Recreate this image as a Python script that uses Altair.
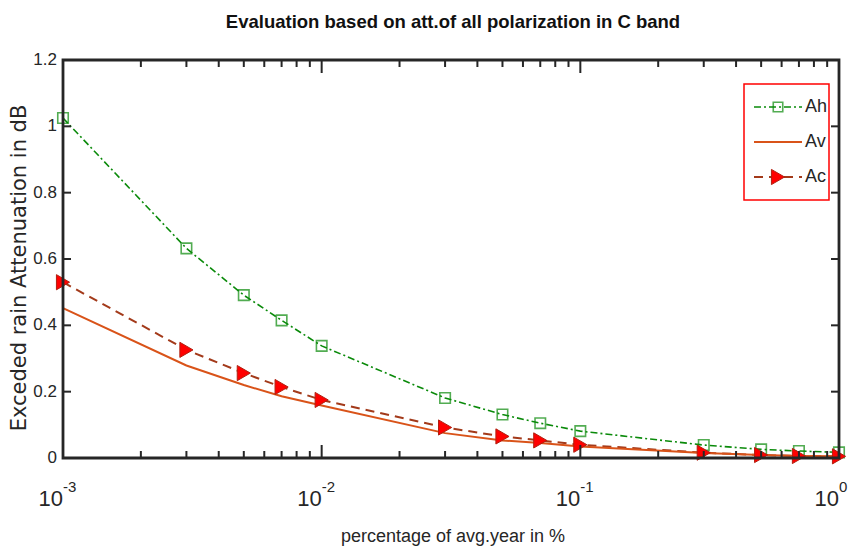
import altair as alt
import pandas as pd

# ---- data ----
pct = [0.001, 0.003, 0.005, 0.007, 0.01, 0.03, 0.05, 0.07, 0.1, 0.3, 0.5, 0.7, 1.0]
Ah = [1.025, 0.632, 0.491, 0.415, 0.338, 0.181, 0.131, 0.105, 0.081, 0.039, 0.026, 0.021, 0.017]
Av = [0.452, 0.279, 0.220, 0.186, 0.158, 0.075, 0.053, 0.045, 0.035, 0.015, 0.009, 0.006, 0.005]
Ac = [0.530, 0.326, 0.256, 0.214, 0.175, 0.092, 0.065, 0.053, 0.040, 0.016, 0.009, 0.006, 0.005]

x_decades = [0.001, 0.01, 0.1, 1.0]
x_exponents = ["-3", "-2", "-1", "0"]
x_minor = [k * d for d in [0.001, 0.01, 0.1] for k in range(2, 10)]
y_ticks = [0.0, 0.2, 0.4, 0.6, 0.8, 1.0, 1.2]
y_tick_labels = ["0", "0.2", "0.4", "0.6", "0.8", "1", "1.2"]
series_names = ["Ah", "Av", "Ac"]

TITLE = "Evaluation based on att.of all polarization in C band"
XTITLE = "percentage of avg.year in %"
YTITLE = "Exceded rain Attenuation in dB"

W, H = 776, 398
FONT = "Liberation Sans, Arial, sans-serif"
AXC = "#262626"
GREEN = "#0a8a0a"
ORANGE = "#D95319"
BROWN = "#A33A1A"

df = pd.DataFrame({"pct": pct, "Ah": Ah, "Av": Av, "Ac": Ac})
xs = alt.Scale(type="log", domain=[0.001, 1])
ys = alt.Scale(domain=[0, 1.2])
X = alt.X("pct:Q", scale=xs, axis=None)
one = pd.DataFrame({"a": [0]})

base = alt.Chart(df)

ah_line = base.mark_line(color=GREEN, strokeWidth=1.6, strokeDash=[7, 3, 2, 3]).encode(
    x=X, y=alt.Y("Ah:Q", scale=ys, axis=None))
ah_pts = base.mark_point(shape="square", size=110, color=GREEN, filled=False, strokeWidth=1.6).encode(
    x=X, y=alt.Y("Ah:Q", scale=ys, axis=None))
ac_line = base.mark_line(color=BROWN, strokeWidth=2, strokeDash=[9, 6]).encode(
    x=X, y=alt.Y("Ac:Q", scale=ys, axis=None))
av_line = base.mark_line(color=ORANGE, strokeWidth=2).encode(
    x=X, y=alt.Y("Av:Q", scale=ys, axis=None))
ac_pts = base.mark_point(shape="triangle-right", size=230, filled=True, fill="#FF0000",
                         stroke="#B02010", strokeWidth=1, opacity=1).encode(
    x=X, y=alt.Y("Ac:Q", scale=ys, axis=None))

# ---- frame ----
frame = alt.Chart(one).mark_rect(fill=None, stroke=AXC, strokeWidth=2.8).encode(
    x=alt.value(0), x2=alt.value(W), y=alt.value(0), y2=alt.value(H))

# ---- inward ticks (clipped to the frame) ----
maj = pd.DataFrame({"v": x_decades})
mnr = pd.DataFrame({"v": x_minor})
yt = pd.DataFrame({"v": y_ticks[1:-1]})
ticks = []
for d, ln in [(maj, 26), (mnr, 14)]:
    for ypos in [0, H]:
        ticks.append(alt.Chart(d).mark_tick(orient="vertical", size=ln, thickness=2, color=AXC,
                                            clip=True, opacity=1).encode(
            x=alt.X("v:Q", scale=xs, axis=None), y=alt.value(ypos)))
for xpos in [0, W]:
    ticks.append(alt.Chart(yt).mark_tick(orient="horizontal", size=16, thickness=2, color=AXC,
                                         clip=True, opacity=1).encode(
        y=alt.Y("v:Q", scale=ys, axis=None), x=alt.value(xpos)))

# ---- tick labels ----
xl = pd.DataFrame({"v": x_decades, "e": x_exponents})
x_lab10 = alt.Chart(xl).mark_text(text="10", align="right", baseline="alphabetic", font=FONT,
                                  fontSize=22, color=AXC, dx=0).encode(
    x=alt.X("v:Q", scale=xs, axis=None), y=alt.value(H + 48))
x_labexp = alt.Chart(xl).mark_text(align="left", baseline="alphabetic", font=FONT,
                                   fontSize=15, color=AXC, dx=0).encode(
    x=alt.X("v:Q", scale=xs, axis=None), y=alt.value(H + 34), text="e:N")
yl = pd.DataFrame({"v": y_ticks, "t": y_tick_labels})
y_lab = alt.Chart(yl).mark_text(align="right", baseline="middle", font=FONT, fontSize=17,
                                color=AXC).encode(
    y=alt.Y("v:Q", scale=ys, axis=None), x=alt.value(-6), text="t:N")

# ---- titles ----
title = alt.Chart(one).mark_text(text=TITLE, font=FONT, fontSize=18.5, fontWeight="bold",
                                 color="#111111", align="center", baseline="middle").encode(
    x=alt.value(W / 2 + 2), y=alt.value(-38))
xtitle = alt.Chart(one).mark_text(text=XTITLE, font=FONT, fontSize=18, color=AXC,
                                  align="center", baseline="middle").encode(
    x=alt.value(W / 2 + 2), y=alt.value(H + 79))
ytitle = alt.Chart(one).mark_text(text=YTITLE, font="DejaVu Sans", fontSize=21, color=AXC,
                                  angle=270, align="center", baseline="middle").encode(
    x=alt.value(-43), y=alt.value(208))

# ---- manual legend ----
lx0, lx1, ly0, ly1 = 681, 766, 24, 140
rows = [47, 82, 117]
leg_box = alt.Chart(one).mark_rect(fill="white", stroke="#FF0000", strokeWidth=1.5).encode(
    x=alt.value(lx0), x2=alt.value(lx1), y=alt.value(ly0), y2=alt.value(ly1))
leg_ah = alt.Chart(one).mark_rule(color=GREEN, strokeWidth=1.6, strokeDash=[7, 3, 2, 3]).encode(
    x=alt.value(691), x2=alt.value(739), y=alt.value(rows[0]))
leg_ah_pt = alt.Chart(one).mark_point(shape="square", size=90, color=GREEN, filled=False,
                                      strokeWidth=1.6).encode(x=alt.value(715), y=alt.value(rows[0]))
leg_av = alt.Chart(one).mark_rule(color=ORANGE, strokeWidth=2).encode(
    x=alt.value(691), x2=alt.value(739), y=alt.value(rows[1]))
leg_ac = alt.Chart(one).mark_rule(color=BROWN, strokeWidth=2, strokeDash=[9, 6]).encode(
    x=alt.value(691), x2=alt.value(739), y=alt.value(rows[2]))
leg_ac_pt = alt.Chart(one).mark_point(shape="triangle-right", size=230, filled=True, fill="#FF0000",
                                      stroke="#B02010", strokeWidth=1, opacity=1).encode(
    x=alt.value(715), y=alt.value(rows[2]))
leg_txt = alt.Chart(pd.DataFrame({"name": series_names, "row": rows})).mark_text(
    align="left", baseline="middle", font=FONT, fontSize=18, color=AXC).encode(
    x=alt.value(742), y=alt.Y("row:Q", scale=alt.Scale(domain=[0, H], range=[0, H]), axis=None),
    text="name:N")

chart = alt.layer(
    ah_line, ah_pts, ac_line, av_line, ac_pts,
    frame, *ticks,
    x_lab10, x_labexp, y_lab, title, xtitle, ytitle,
    leg_box, leg_ah, leg_ah_pt, leg_av, leg_ac, leg_ac_pt, leg_txt,
).resolve_scale(y="independent").properties(
    width=W, height=H,
    background="white",
    autosize=alt.AutoSizeParams(type="none"),
    padding={"left": 55, "top": 52, "right": 9, "bottom": 90},
).configure_view(stroke=None)

chart.save("out.html", embed_options={"renderer": "svg", "actions": False})
